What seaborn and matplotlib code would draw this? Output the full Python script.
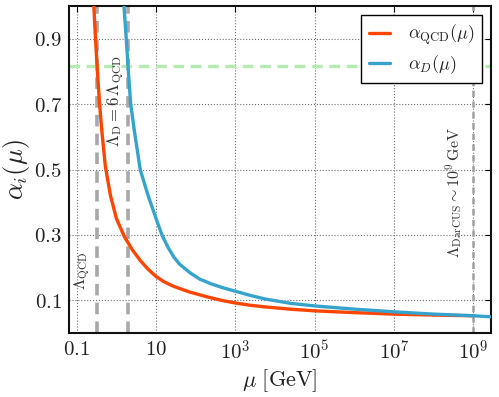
import matplotlib
matplotlib.use("Agg")
import matplotlib.pyplot as plt
import seaborn as sns
import numpy as np
import pandas as pd
from matplotlib.ticker import FixedLocator, FixedFormatter, NullLocator

# ---- data ----
mu_qcd = [0.245, 0.269, 0.297, 0.331, 0.376, 0.427, 0.525, 0.708, 1.0, 1.585,
          2.51, 3.98, 6.31, 10.0, 15.8, 27.5, 72.4, 191.0, 447.0, 1.0e3,
          2.4e3, 5.75e3, 2.45e4, 1.0e5, 8.1e5, 1.0e7, 1.0e8, 1.0e9]
alpha_qcd = [1.10, 1.00, 0.90, 0.80, 0.70, 0.62, 0.51, 0.42, 0.35, 0.295,
             0.255, 0.222, 0.195, 0.173, 0.157, 0.143, 0.125, 0.111, 0.100, 0.092,
             0.085, 0.080, 0.073, 0.068, 0.063, 0.058, 0.055, 0.053]

mu_d = [1.35, 1.55, 1.77, 2.0, 2.29, 2.82, 3.98, 6.31, 10.0, 14.1,
        20.0, 28.2, 39.8, 70.8, 126.0, 251.0, 501.0, 1.0e3, 2.4e3, 5.75e3,
        2.45e4, 1.0e5, 8.1e5, 1.0e7, 1.0e8, 1.0e9, 3.5e9]
alpha_d = [1.10, 1.00, 0.90, 0.80, 0.70, 0.62, 0.50, 0.42, 0.35, 0.30,
           0.262, 0.232, 0.210, 0.185, 0.165, 0.150, 0.138, 0.128, 0.115, 0.104,
           0.091, 0.083, 0.074, 0.065, 0.058, 0.053, 0.049]

lambda_qcd = 0.32
lambda_d = 1.92
lambda_darcus = 1.0e9
alpha_line = 0.815

xtick_vals = [0.1, 10, 1e3, 1e5, 1e7, 1e9]
xtick_labels = [r"$0.1$", r"$10$", r"$10^{3}$", r"$10^{5}$", r"$10^{7}$", r"$10^{9}$"]
ytick_vals = [0.1, 0.3, 0.5, 0.7, 0.9]
ytick_labels = [r"$0.1$", r"$0.3$", r"$0.5$", r"$0.7$", r"$0.9$"]

labels = [r"$\alpha_{\rm QCD}(\mu)$", r"$\alpha_D(\mu)$"]
colors = ["#ff4500", "#35a3cc"]

# ---- style ----
sns.set_theme(style="white")
plt.rcParams["mathtext.fontset"] = "cm"
plt.rcParams["font.family"] = ["DejaVu Serif"]

fig = plt.figure(figsize=(4.99, 3.97), dpi=100)
ax = fig.add_axes([0.138, 0.161, 0.846, 0.824])

df_qcd = pd.DataFrame({"mu": mu_qcd, "alpha": alpha_qcd})
df_d = pd.DataFrame({"mu": mu_d, "alpha": alpha_d})

# reference lines
for xv in [lambda_qcd, lambda_d]:
    ax.axvline(xv, color="#a8a8a8", lw=2.6, ls=(0, (3.2, 2.0)), zorder=1)
ax.axvline(lambda_darcus, color="#a0a0a0", lw=1.8, ls=(0, (2.5, 1.8)), zorder=1)
ax.axhline(alpha_line, color="#b4ecb0", lw=2.4, ls=(0, (3.2, 2.0)), zorder=1)

sns.lineplot(data=df_qcd, x="mu", y="alpha", ax=ax, color=colors[0], lw=2.4,
             label=labels[0], sort=False, estimator=None, zorder=3)
sns.lineplot(data=df_d, x="mu", y="alpha", ax=ax, color=colors[1], lw=2.4,
             label=labels[1], sort=False, estimator=None, zorder=3)

ax.set_xscale("log")
ax.set_xlim(10 ** -1.2, 10 ** 9.45)
ax.set_ylim(0.0, 1.0)

ax.xaxis.set_major_locator(FixedLocator(xtick_vals))
ax.xaxis.set_major_formatter(FixedFormatter(xtick_labels))
ax.xaxis.set_minor_locator(NullLocator())
ax.yaxis.set_major_locator(FixedLocator(ytick_vals))
ax.yaxis.set_major_formatter(FixedFormatter(ytick_labels))

ax.tick_params(axis="both", which="major", direction="in", length=4, width=0.8,
               top=True, right=True, labelsize=15, pad=5, colors="black")
for lab in ax.get_xticklabels() + ax.get_yticklabels():
    lab.set_color("#222222")

ax.grid(True, color="#707070", ls=":", lw=0.8)
for s in ax.spines.values():
    s.set_color("#111111")
    s.set_linewidth(1.5)

ax.set_xlabel(r"$\mu\ [\mathrm{GeV}]$", fontsize=16, labelpad=2, color="#222222")
ax.set_ylabel(r"$\alpha_i(\mu)$", fontsize=19, labelpad=1, color="#222222")

# annotations
ax.text(0.135, 0.19, r"$\Lambda_{\rm QCD}$", rotation=90, fontsize=11.5,
        ha="center", va="center", color="#333333")
ax.text(0.97, 0.71, r"$\Lambda_{\rm D} = 6\,\Lambda_{\rm QCD}$", rotation=90,
        fontsize=12, ha="center", va="center", color="#333333")
ax.text(3.4e8, 0.43, r"$\Lambda_{\rm DarCUS} \sim 10^9\,\mathrm{GeV}$", rotation=90,
        fontsize=11.5, ha="center", va="center", color="#333333")

leg = ax.legend(loc="upper right", fontsize=13, frameon=True, fancybox=False,
                edgecolor="black", handlelength=1.2, borderpad=0.4,
                labelspacing=0.35, borderaxespad=0.5, handletextpad=1.0)
leg.get_frame().set_linewidth(1.0)
leg.get_frame().set_alpha(1.0)

fig.savefig("out.png", dpi=100)
